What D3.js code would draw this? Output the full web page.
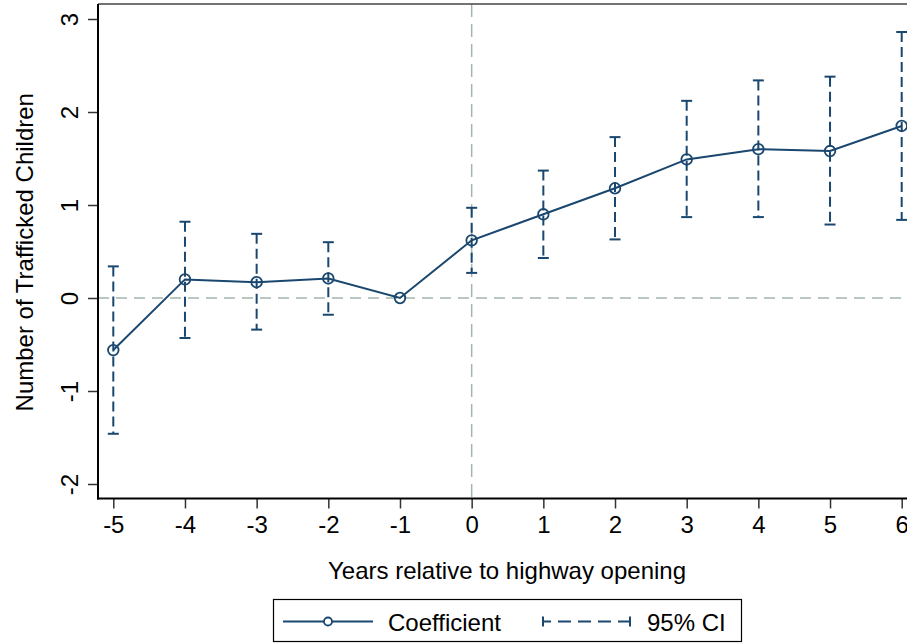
<!DOCTYPE html>
<html>
<head>
<meta charset="utf-8">
<script src="https://cdn.jsdelivr.net/npm/d3@7"></script>
<style>
  body { margin: 0; background: #fff; }
  svg { display: block; font-family: "Liberation Sans", Arial, Helvetica, sans-serif; }
</style>
</head>
<body>
<script>
// Event-study estimates
const years = [-5, -4, -3, -2, -1, 0, 1, 2, 3, 4, 5, 6];
const coef  = [-0.56, 0.20, 0.17, 0.21, 0.00, 0.62, 0.90, 1.18, 1.49, 1.60, 1.58, 1.85];
const ciLow = [-1.46, -0.43, -0.34, -0.18, null, 0.27, 0.43, 0.63, 0.87, 0.87, 0.79, 0.84];
const ciHigh = [0.34, 0.82, 0.69, 0.60, null, 0.97, 1.37, 1.73, 2.12, 2.34, 2.38, 2.86];
const xTicks = [-5, -4, -3, -2, -1, 0, 1, 2, 3, 4, 5, 6];
const yTicks = [-2, -1, 0, 1, 2, 3];

const W = 907, H = 643;
const navy = "#1a476f";
const refCol = "#a3b5ad";
const fs = "24px";
const fmt = d => String(d); // plain hyphen minus, no decimals

const svg = d3.select("body").append("svg")
    .attr("width", W)
    .attr("height", H);

// scales (axes sit a little outside the outer ticks, like Stata)
const x = d3.scaleLinear().domain([-5, 6]).range([113.3, 901.7]);
const y = d3.scaleLinear().domain([-2, 3]).range([484, 19]);
const plotLeft = 98, plotBottom = 498.5, plotTop = 4;

// reference lines
svg.append("line")
    .attr("x1", plotLeft).attr("x2", W)
    .attr("y1", y(0)).attr("y2", y(0))
    .attr("stroke", refCol).attr("stroke-width", 1.5)
    .attr("stroke-dasharray", "11,7");
svg.append("line")
    .attr("x1", x(0)).attr("x2", x(0))
    .attr("y1", plotTop).attr("y2", plotBottom)
    .attr("stroke", refCol).attr("stroke-width", 1.5)
    .attr("stroke-dasharray", "13,7");

// top border
svg.append("line")
    .attr("x1", plotLeft).attr("x2", W)
    .attr("y1", plotTop).attr("y2", plotTop)
    .attr("stroke", "#444").attr("stroke-width", 1.6);

// Y axis
const yAxis = svg.append("g")
    .attr("transform", `translate(${plotLeft},0)`)
    .call(d3.axisLeft(y).tickValues(yTicks).tickFormat(fmt).tickSize(10).tickSizeOuter(0));
yAxis.select(".domain").remove();
yAxis.append("line")
    .attr("x1", 0).attr("x2", 0)
    .attr("y1", plotTop).attr("y2", plotBottom + 1)
    .attr("stroke", "#000").attr("stroke-width", 2);
yAxis.selectAll(".tick line").attr("stroke", "#333").attr("stroke-width", 1.5);
yAxis.selectAll(".tick text")
    .attr("x", 0).attr("dy", null)
    .attr("transform", "translate(-20,0) rotate(-90)")
    .attr("text-anchor", "middle")
    .attr("fill", "#000")
    .style("font-size", fs);

// X axis
const xAxis = svg.append("g")
    .attr("transform", `translate(0,${plotBottom})`)
    .call(d3.axisBottom(x).tickValues(xTicks).tickFormat(fmt).tickSize(10).tickSizeOuter(0));
xAxis.select(".domain").remove();
xAxis.append("line")
    .attr("x1", plotLeft - 1).attr("x2", W)
    .attr("y1", 0).attr("y2", 0)
    .attr("stroke", "#000").attr("stroke-width", 2);
xAxis.selectAll(".tick line").attr("stroke", "#333").attr("stroke-width", 1.5);
xAxis.selectAll(".tick text")
    .attr("y", 34.5).attr("dy", null)
    .attr("fill", "#000")
    .style("font-size", fs);

// axis titles
svg.append("text")
    .attr("x", 507).attr("y", 579)
    .attr("text-anchor", "middle")
    .style("font-size", fs)
    .text("Years relative to highway opening");
svg.append("text")
    .attr("transform", `translate(33,${(plotTop + plotBottom) / 2 + 1}) rotate(-90)`)
    .attr("text-anchor", "middle")
    .style("font-size", fs)
    .text("Number of Trafficked Children");

// data rows
const rows = years.map((yr, i) => ({ yr, b: coef[i], lo: ciLow[i], hi: ciHigh[i] }));
const ciRows = rows.filter(d => d.lo !== null);

// CI whiskers
const ci = svg.append("g").attr("stroke", navy).attr("fill", "none");
ci.selectAll(".ci").data(ciRows).enter().append("line")
    .attr("x1", d => x(d.yr)).attr("x2", d => x(d.yr))
    .attr("y1", d => y(d.hi)).attr("y2", d => y(d.lo))
    .attr("stroke-width", 2)
    .attr("stroke-dasharray", "10,5");
ci.selectAll(".capHi").data(ciRows).enter().append("line")
    .attr("x1", d => x(d.yr) - 5.5).attr("x2", d => x(d.yr) + 5.5)
    .attr("y1", d => y(d.hi)).attr("y2", d => y(d.hi))
    .attr("stroke-width", 2);
ci.selectAll(".capLo").data(ciRows).enter().append("line")
    .attr("x1", d => x(d.yr) - 5.5).attr("x2", d => x(d.yr) + 5.5)
    .attr("y1", d => y(d.lo)).attr("y2", d => y(d.lo))
    .attr("stroke-width", 2);

// coefficient line + hollow markers
svg.append("path")
    .datum(rows)
    .attr("fill", "none")
    .attr("stroke", navy)
    .attr("stroke-width", 2)
    .attr("d", d3.line().x(d => x(d.yr)).y(d => y(d.b)));
svg.selectAll(".pt").data(rows).enter().append("circle")
    .attr("cx", d => x(d.yr)).attr("cy", d => y(d.b))
    .attr("r", 5.3)
    .attr("fill", "none")
    .attr("stroke", navy)
    .attr("stroke-width", 1.8);

// legend
const lg = svg.append("g");
lg.append("rect")
    .attr("x", 273.5).attr("y", 599.5)
    .attr("width", 468).attr("height", 42)
    .attr("fill", "#fff").attr("stroke", "#000").attr("stroke-width", 1.2);
const ly = 621.5;
lg.append("line")
    .attr("x1", 283).attr("x2", 373).attr("y1", ly).attr("y2", ly)
    .attr("stroke", navy).attr("stroke-width", 2);
lg.append("circle")
    .attr("cx", 328).attr("cy", ly).attr("r", 4)
    .attr("fill", "#fff").attr("stroke", navy).attr("stroke-width", 1.8);
lg.append("text")
    .attr("x", 388).attr("y", ly + 9.5)
    .style("font-size", fs)
    .text("Coefficient");
lg.append("line")
    .attr("x1", 543).attr("x2", 630).attr("y1", ly).attr("y2", ly)
    .attr("stroke", navy).attr("stroke-width", 2)
    .attr("stroke-dasharray", "8,7,13,7,13,7,13,7,13");
[543, 630].forEach(cx => {
    lg.append("line")
        .attr("x1", cx).attr("x2", cx).attr("y1", ly - 5).attr("y2", ly + 5)
        .attr("stroke", navy).attr("stroke-width", 2);
});
lg.append("text")
    .attr("x", 647).attr("y", ly + 9.5)
    .style("font-size", fs)
    .text("95% CI");
</script>
</body>
</html>
